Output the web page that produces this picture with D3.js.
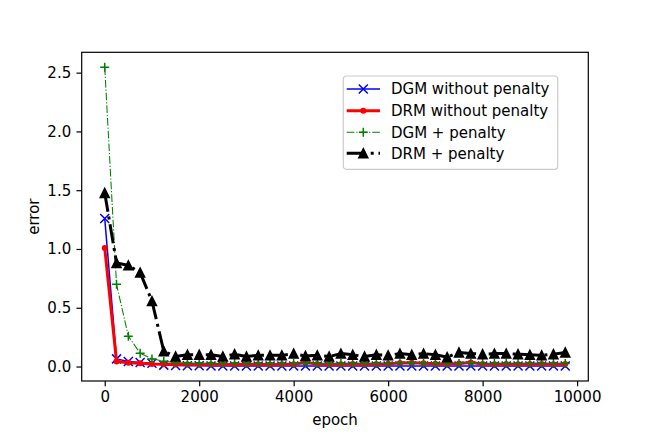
<!DOCTYPE html>
<html>
<head>
<meta charset="utf-8">
<script src="https://cdn.jsdelivr.net/npm/d3@7"></script>
<style>
  body { margin: 0; background: #fff; }
  text { font-family: "DejaVu Sans", sans-serif; }
</style>
</head>
<body>
<div id="chart"></div>
<script>
// epochs (x) and the four error series
var epochs = [0, 250, 500, 750, 1000, 1250, 1500, 1750, 2000, 2250,
  2500, 2750, 3000, 3250, 3500, 3750, 4000, 4250, 4500, 4750,
  5000, 5250, 5500, 5750, 6000, 6250, 6500, 6750, 7000, 7250,
  7500, 7750, 8000, 8250, 8500, 8750, 9000, 9250, 9500, 9750];

var dgmNoPenalty = [1.259, 0.065, 0.042, 0.035, 0.028, 0.012, 0.008, 0.006, 0.006, 0.005,
  0.005, 0.004, 0.005, 0.004, 0.004, 0.005, 0.004, 0.004, 0.005, 0.004,
  0.004, 0.004, 0.005, 0.004, 0.004, 0.004, 0.005, 0.004, 0.004, 0.004,
  0.004, 0.005, 0.004, 0.004, 0.004, 0.004, 0.005, 0.004, 0.004, 0.004];

var drmNoPenalty = [1.009, 0.043, 0.032, 0.027, 0.022, 0.020, 0.018, 0.019, 0.018, 0.020,
  0.019, 0.018, 0.020, 0.019, 0.018, 0.020, 0.019, 0.035, 0.022, 0.020,
  0.020, 0.021, 0.020, 0.022, 0.024, 0.030, 0.032, 0.028, 0.024, 0.022,
  0.025, 0.035, 0.022, 0.020, 0.021, 0.020, 0.022, 0.021, 0.020, 0.022];

var dgmPenalty = [2.546, 0.699, 0.258, 0.113, 0.065, 0.045, 0.035, 0.030, 0.028, 0.027,
  0.026, 0.027, 0.025, 0.026, 0.025, 0.026, 0.025, 0.030, 0.026, 0.025,
  0.025, 0.026, 0.025, 0.026, 0.025, 0.027, 0.030, 0.026, 0.025, 0.025,
  0.026, 0.028, 0.025, 0.026, 0.025, 0.026, 0.025, 0.026, 0.025, 0.026];

var drmPenalty = [1.477, 0.881, 0.861, 0.799, 0.557, 0.130, 0.085, 0.100, 0.100, 0.100,
  0.085, 0.105, 0.085, 0.095, 0.095, 0.095, 0.110, 0.090, 0.095, 0.085,
  0.110, 0.100, 0.085, 0.100, 0.095, 0.110, 0.100, 0.110, 0.100, 0.080,
  0.120, 0.110, 0.105, 0.110, 0.110, 0.105, 0.100, 0.095, 0.105, 0.120];

var xTicks = [0, 2000, 4000, 6000, 8000, 10000];
var yTicks = [0.0, 0.5, 1.0, 1.5, 2.0, 2.5];

var seriesNames = ["DGM without penalty", "DRM without penalty", "DGM + penalty", "DRM + penalty"];

// figure layout (matplotlib-like, ~108 dpi)
var W = 654, H = 436;
var margin = {top: 52.3, right: 654 - 588.3, bottom: 436 - 381, left: 81.7},
    width = W - margin.left - margin.right,
    height = H - margin.top - margin.bottom;
var pt = 1.5;
var fontPx = 10 * pt;

var series = [
  {name: seriesNames[0], values: dgmNoPenalty, color: "#0000ff", lw: 1 * pt, dash: null, marker: "x"},
  {name: seriesNames[1], values: drmNoPenalty, color: "#ff0000", lw: 2 * pt, dash: null, marker: "."},
  {name: seriesNames[2], values: dgmPenalty, color: "#008000", lw: 0.7 * pt, dash: [6.4, 1.6, 1, 1.6].map(function(d) { return d * 0.8 * pt; }), marker: "+"},
  {name: seriesNames[3], values: drmPenalty, color: "#000000", lw: 2 * pt, dash: [6.4, 1.6, 1, 1.6].map(function(d) { return d * 2 * pt; }), marker: "^"}
];

var svg = d3.select("#chart")
  .append("svg")
    .attr("width", W)
    .attr("height", H)
  .append("g")
    .attr("transform", "translate(" + margin.left + "," + margin.top + ")");

// scales with 5% padding like matplotlib autoscale
var xExt = d3.extent(epochs), xPad = (xExt[1] - xExt[0]) * 0.05;
var x = d3.scaleLinear()
  .domain([xExt[0] - xPad, xExt[1] + xPad])
  .range([0, width]);

var allY = [].concat(dgmNoPenalty, drmNoPenalty, dgmPenalty, drmPenalty);
var yExt = d3.extent(allY), yPad = (yExt[1] - yExt[0]) * 0.05;
var y = d3.scaleLinear()
  .domain([yExt[0] - yPad, yExt[1] + yPad])
  .range([height, 0]);

svg.append("defs").append("clipPath").attr("id", "clip")
  .append("rect").attr("x", -10).attr("y", -10).attr("width", width + 20).attr("height", height + 20);

var ms = 6 * pt; // marker size

function drawMarker(g, type, color, cx, cy) {
  if (type === "x") {
    g.append("path")
      .attr("d", "M" + (cx - ms / 2) + "," + (cy - ms / 2) + "L" + (cx + ms / 2) + "," + (cy + ms / 2) +
                 "M" + (cx - ms / 2) + "," + (cy + ms / 2) + "L" + (cx + ms / 2) + "," + (cy - ms / 2))
      .attr("stroke", color).attr("stroke-width", pt).attr("fill", "none");
  } else if (type === "+") {
    g.append("path")
      .attr("d", "M" + (cx - ms / 2) + "," + cy + "L" + (cx + ms / 2) + "," + cy +
                 "M" + cx + "," + (cy - ms / 2) + "L" + cx + "," + (cy + ms / 2))
      .attr("stroke", color).attr("stroke-width", pt).attr("fill", "none");
  } else if (type === ".") {
    g.append("circle")
      .attr("cx", cx).attr("cy", cy).attr("r", ms / 4)
      .attr("fill", color).attr("stroke", color).attr("stroke-width", pt);
  } else if (type === "^") {
    g.append("path")
      .attr("d", "M" + cx + "," + (cy - ms / 2) + "L" + (cx - ms / 2) + "," + (cy + ms / 2) +
                 "L" + (cx + ms / 2) + "," + (cy + ms / 2) + "Z")
      .attr("fill", color).attr("stroke", color).attr("stroke-width", pt)
      .attr("stroke-linejoin", "miter");
  }
}

var line = d3.line()
  .x(function(d, i) { return x(epochs[i]); })
  .y(function(d) { return y(d); });

var plot = svg.append("g").attr("clip-path", "url(#clip)");

series.forEach(function(s) {
  var g = plot.append("g");
  g.append("path")
    .datum(s.values)
    .attr("d", line)
    .attr("fill", "none")
    .attr("stroke", s.color)
    .attr("stroke-width", s.lw)
    .attr("stroke-linejoin", "round")
    .attr("stroke-dasharray", s.dash ? s.dash.join(",") : null);
  s.values.forEach(function(v, i) {
    drawMarker(g, s.marker, s.color, x(epochs[i]), y(v));
  });
});

// axes
var xAxis = d3.axisBottom(x).tickValues(xTicks).tickSize(3.5 * pt).tickPadding(3.5 * pt).tickFormat(d3.format("d"));
var yAxis = d3.axisLeft(y).tickValues(yTicks).tickSize(3.5 * pt).tickPadding(3.5 * pt).tickFormat(d3.format(".1f"));

var gx = svg.append("g")
  .attr("transform", "translate(0," + height + ")")
  .call(xAxis);
var gy = svg.append("g")
  .call(yAxis);

[gx, gy].forEach(function(g) {
  g.select(".domain").remove();
  g.selectAll(".tick line").attr("stroke", "#000").attr("stroke-width", 0.8 * pt);
  g.selectAll(".tick text")
    .attr("fill", "#000")
    .style("font-family", "DejaVu Sans, sans-serif")
    .style("font-size", fontPx + "px");
});

// frame
svg.append("rect")
  .attr("width", width)
  .attr("height", height)
  .attr("fill", "none")
  .attr("stroke", "#000")
  .attr("stroke-width", 0.8 * pt);

// axis labels
svg.append("text")
  .attr("x", width / 2)
  .attr("y", height + 38.3)
  .attr("dy", "0.35em")
  .attr("text-anchor", "middle")
  .style("font-size", fontPx + "px")
  .text("epoch");

svg.append("text")
  .attr("transform", "rotate(-90)")
  .attr("x", -(height / 2))
  .attr("y", 33.3 - margin.left)
  .attr("dy", "0.35em")
  .attr("text-anchor", "middle")
  .style("font-size", fontPx + "px")
  .text("error");

// legend
var legend = svg.append("g")
  .attr("transform", "translate(" + (343.3 - margin.left) + "," + (76 - margin.top) + ")");

legend.append("rect")
  .attr("width", 557.7 - 343.3)
  .attr("height", 169.3 - 76)
  .attr("rx", 3)
  .attr("fill", "#fff")
  .attr("fill-opacity", 0.8)
  .attr("stroke", "#cccccc")
  .attr("stroke-width", 0.8 * pt);

var rowY = [13, 34.7, 56.3, 77.3];
series.forEach(function(s, i) {
  var g = legend.append("g");
  g.append("line")
    .attr("x1", 3.4).attr("x2", 36.7)
    .attr("y1", rowY[i]).attr("y2", rowY[i])
    .attr("stroke", s.color)
    .attr("stroke-width", s.lw)
    .attr("stroke-dasharray", s.dash ? s.dash.join(",") : null);
  drawMarker(g, s.marker, s.color, 20, rowY[i]);
  g.append("text")
    .attr("x", 47.7)
    .attr("y", rowY[i])
    .attr("dy", "0.35em")
    .style("font-size", fontPx + "px")
    .text(s.name);
});
</script>
</body>
</html>
